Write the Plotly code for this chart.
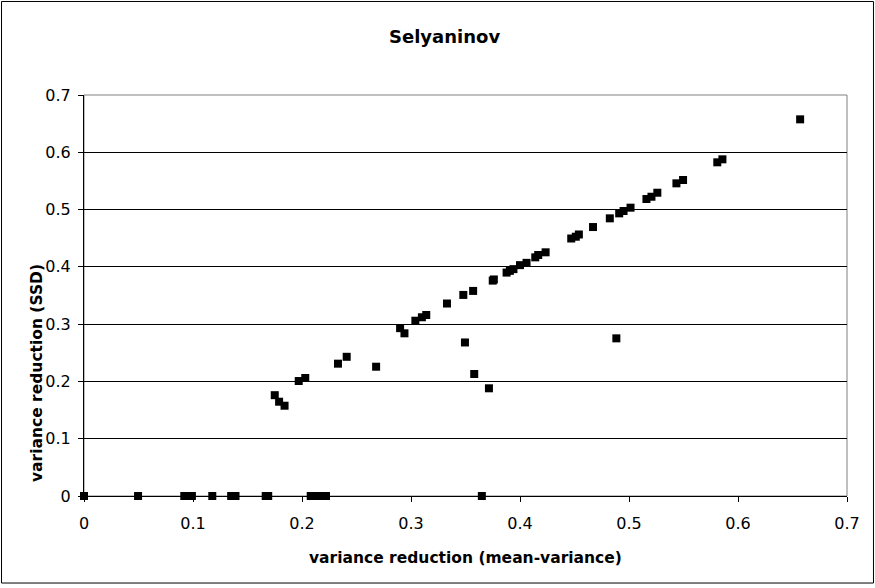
import plotly.graph_objects as go

# variance reduction (mean-variance)
x_mv = [0.0, 0.0496, 0.092, 0.095, 0.099, 0.1177, 0.135, 0.139, 0.1667, 0.169,
        0.208, 0.2128, 0.2174, 0.222, 0.365,
        0.175, 0.179, 0.184, 0.197, 0.203,
        0.233, 0.241, 0.268, 0.290, 0.294, 0.304, 0.310, 0.314, 0.333, 0.348,
        0.3495, 0.357, 0.358, 0.3715, 0.375, 0.376, 0.3877, 0.3907, 0.394, 0.400,
        0.406, 0.414, 0.4167, 0.4235, 0.447, 0.4512, 0.454, 0.467, 0.4824, 0.4884,
        0.491, 0.495, 0.5014, 0.516, 0.5206, 0.526, 0.5435, 0.5496, 0.581, 0.5857,
        0.657]
# variance reduction (SSD)
y_ssd = [0.0, 0.0, 0.0, 0.0, 0.0, 0.0, 0.0, 0.0, 0.0, 0.0,
         0.0, 0.0, 0.0, 0.0, 0.0,
         0.176, 0.1646, 0.1576, 0.2007, 0.206,
         0.231, 0.243, 0.2257, 0.293, 0.284, 0.306, 0.312, 0.316, 0.336, 0.351,
         0.268, 0.358, 0.213, 0.188, 0.376, 0.378, 0.390, 0.393, 0.396, 0.403,
         0.407, 0.4166, 0.4207, 0.4254, 0.4495, 0.4526, 0.4565, 0.4695, 0.4847, 0.2752,
         0.4934, 0.4975, 0.5033, 0.5184, 0.5224, 0.5294, 0.5458, 0.5516, 0.5825, 0.5877,
         0.6575]

tick_vals = [0, 0.1, 0.2, 0.3, 0.4, 0.5, 0.6, 0.7]
tick_text = ["0", "0.1", "0.2", "0.3", "0.4", "0.5", "0.6", "0.7"]

FONT = "DejaVu Sans"

fig = go.Figure()
fig.add_trace(go.Scatter(
    x=x_mv, y=y_ssd, mode="markers",
    marker=dict(symbol="square", size=8, color="black"),
    showlegend=False, cliponaxis=False,
))

axis_common = dict(
    range=[0, 0.7], tickvals=tick_vals, ticktext=tick_text,
    showline=True, linecolor="black", linewidth=1,
    ticks="outside", ticklen=5, tickcolor="black", tickwidth=1,
    zeroline=False, tickfont=dict(family=FONT, size=16, color="black"),
    mirror=False,
)
fig.update_xaxes(**axis_common, showgrid=False, ticklabelstandoff=8)
fig.update_yaxes(**axis_common, showgrid=True, gridcolor="black", gridwidth=1,
                 ticklabelstandoff=4)

fig.update_layout(
    width=875, height=588,
    margin=dict(l=84, r=28, t=95, b=92),
    paper_bgcolor="white", plot_bgcolor="white",
    font=dict(family=FONT, color="black"),
    shapes=[
        # plot area border (gray)
        dict(type="rect", xref="paper", yref="paper", x0=0, x1=1, y0=0, y1=1,
             line=dict(color="#808080", width=1), layer="below"),
        # chart outer border
        dict(type="rect", xref="paper", yref="paper",
             x0=-0.1081, x1=1.0347, y0=-0.217, y1=1.2332,
             line=dict(color="black", width=1)),
    ],
    annotations=[
        dict(text="<b>Selyaninov</b>", xref="paper", yref="paper",
             x=0.473, y=1.145, xanchor="center", yanchor="middle",
             showarrow=False, font=dict(family=FONT, size=18, color="black")),
        dict(text="<b>variance reduction (mean-variance)</b>", xref="paper", yref="paper",
             x=0.5, y=-0.1546, xanchor="center", yanchor="middle",
             showarrow=False, font=dict(family=FONT, size=15.5, color="black")),
        dict(text="<b>variance reduction (SSD)</b>", xref="paper", yref="paper",
             x=-0.0616, y=0.3067, xanchor="center", yanchor="middle", textangle=-90,
             showarrow=False, font=dict(family=FONT, size=15.5, color="black")),
    ],
)

fig.write_html("out.html", config={"displayModeBar": False},
               post_script="document.body.style.margin='0';document.body.style.overflow='hidden';")
